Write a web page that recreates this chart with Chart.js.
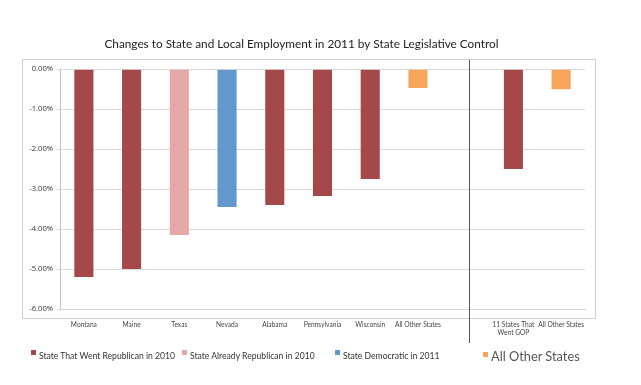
<!DOCTYPE html>
<html>
<head>
<meta charset="utf-8">
<script src="https://cdn.jsdelivr.net/npm/chart.js@4.4.1/dist/chart.umd.min.js"></script>
<style>
  html, body { margin: 0; padding: 0; background: #fff; }
  #wrap { position: relative; width: 641px; height: 385px; }
  #legend { position: absolute; left: 0; top: 348px; width: 641px; height: 20px;
            font-family: Lato, "Open Sans", sans-serif; color: #333; }
  .item { position: absolute; top: 0; white-space: nowrap; font-size: 8.6px; line-height: 16px; }
  .item .sw { display: inline-block; width: 5px; height: 5px; margin-right: 3px; vertical-align: 4px; }
  .item.big { font-size: 12.8px; color: #555; }
</style>
</head>
<body>
<div id="wrap">
  <canvas id="chart" width="641" height="385"></canvas>
  <div id="legend"></div>
</div>
<script>
// Changes to state and local employment, 2011 (percent)

const categories = ['Montana', 'Maine', 'Texas', 'Nevada', 'Alabama', 'Pennsylvania', 'Wisconsin',
  'All Other States', '', ['11 States That', 'Went GOP'], 'All Other States'];
const changeValues = [-5.2, -5.0, -4.15, -3.45, -3.4, -3.17, -2.75, -0.47, null, -2.5, -0.5];
const groupOfBar = [0, 0, 1, 2, 0, 0, 0, 3, 3, 0, 3];

const groupNames = ['State That Went Republican in 2010', 'State Already Republican in 2010',
  'State Democratic in 2011', 'All Other States'];
const groupColors = ['#a4484a', '#e4a8a9', '#6497cc', '#f6a55b'];

const yTicks = [0, -1, -2, -3, -4, -5, -6];

const boxPlugin = {
  id: 'boxPlugin',
  beforeDraw(chart) {
    const ctx = chart.ctx;
    ctx.save();
    ctx.strokeStyle = '#cfcfcf';
    ctx.lineWidth = 1;
    ctx.strokeRect(22.5, 59.5, 573, 259);
    ctx.restore();
  },
  afterDraw(chart) {
    // divider between the states and the summary group
    const x = Math.round(chart.scales.x.getPixelForValue(8)) + 3.5;
    const ctx = chart.ctx;
    ctx.save();
    ctx.strokeStyle = '#555';
    ctx.lineWidth = 1;
    ctx.beginPath();
    ctx.moveTo(x, 60);
    ctx.lineTo(x, 343);
    ctx.stroke();
    ctx.restore();
  }
};

const ctx = document.getElementById('chart').getContext('2d');
new Chart(ctx, {
  type: 'bar',
  data: {
    labels: categories,
    datasets: [{
      data: changeValues,
      backgroundColor: groupOfBar.map(g => groupColors[g]),
      borderWidth: 0,
      barPercentage: 0.4,
      categoryPercentage: 1.0
    }]
  },
  options: {
    responsive: false,
    animation: false,
    layout: { padding: { left: 18, right: 56, top: 0, bottom: 36 } },
    plugins: {
      legend: { display: false },
      tooltip: { enabled: false },
      title: {
        display: true,
        text: 'Changes to State and Local Employment in 2011 by State Legislative Control',
        color: '#222',
        font: { family: 'Lato', size: 11.8, weight: 'normal' },
        padding: { top: 37, bottom: 18 }
      }
    },
    scales: {
      x: {
        grid: { display: false, drawTicks: false },
        border: { display: true, color: '#d6d6d6' },
        ticks: {
          color: '#444',
          font: { family: 'Lato', size: 6.6 },
          padding: 12,
          maxRotation: 0,
          autoSkip: false
        },
        afterFit(scale) { scale.height = 40; }
      },
      y: {
        min: -6,
        max: 0,
        afterBuildTicks(scale) { scale.ticks = yTicks.map(v => ({ value: v })); },
        grid: { color: '#d9d9d9', tickLength: 3 },
        border: { display: true, color: '#c4c4c4' },
        ticks: {
          color: '#333',
          font: { family: 'Open Sans', size: 7.6 },
          padding: 4,
          callback: v => v.toFixed(2) + '%'
        },
        afterFit(scale) { scale.width = 42; }
      }
    }
  },
  plugins: [boxPlugin]
});

const legendLeft = [31, 182, 335, 483];
const legend = document.getElementById('legend');
groupNames.forEach((name, i) => {
  const el = document.createElement('div');
  el.className = 'item' + (i === 3 ? ' big' : '');
  el.style.left = legendLeft[i] + 'px';
  el.innerHTML = `<span class="sw" style="background:${groupColors[i]}"></span>${name}`;
  legend.appendChild(el);
});
</script>
</body>
</html>
